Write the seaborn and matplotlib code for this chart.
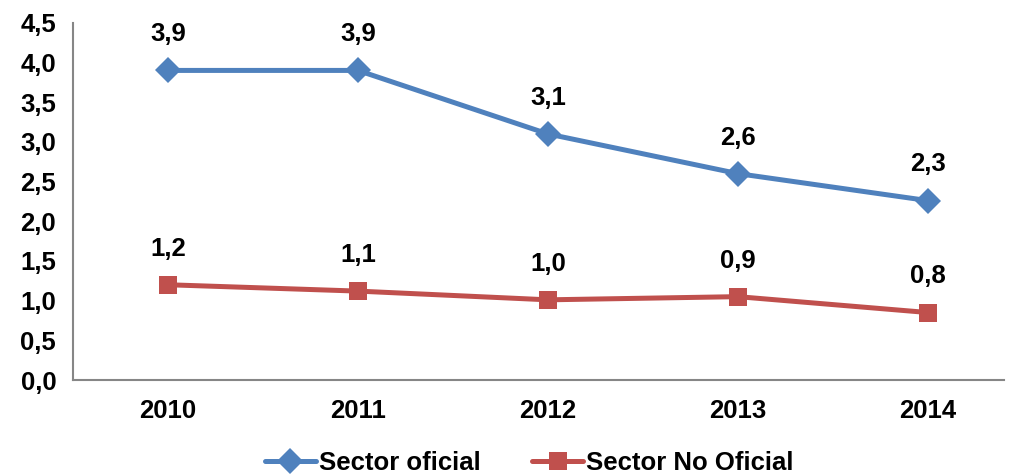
import matplotlib.pyplot as plt
import numpy as np
import pandas as pd
import seaborn as sns

sns.set_style('white')
plt.rcParams['font.family'] = ['Liberation Sans', 'DejaVu Sans']
plt.rcParams['font.weight'] = 'bold'
plt.rcParams['text.color'] = 'black'
plt.rcParams['xtick.color'] = 'black'
plt.rcParams['ytick.color'] = 'black'

# data
years = ['2010', '2011', '2012', '2013', '2014']
oficial = [3.9, 3.9, 3.1, 2.6, 2.26]
no_oficial = [1.2, 1.12, 1.01, 1.05, 0.85]
oficial_labels = ['3,9', '3,9', '3,1', '2,6', '2,3']
no_oficial_labels = ['1,2', '1,1', '1,0', '0,9', '0,8']
yticks = [0.0, 0.5, 1.0, 1.5, 2.0, 2.5, 3.0, 3.5, 4.0, 4.5]

df = pd.DataFrame({
    'year': years * 2,
    'value': oficial + no_oficial,
    'sector': ['Sector oficial'] * 5 + ['Sector No Oficial'] * 5,
})

fig = plt.figure(figsize=(10.12, 4.75), dpi=100)
ax = fig.add_axes([0.072, 0.2, 0.92, 0.752])

sns.lineplot(data=df, x='year', y='value', hue='sector', style='sector',
             palette={'Sector oficial': '#4F81BD', 'Sector No Oficial': '#C0504D'},
             markers={'Sector oficial': 'D', 'Sector No Oficial': 's'},
             dashes=False, linewidth=3.6, markersize=13.5, markeredgewidth=0,
             sort=False, ax=ax)

# value labels above each point
for series, labels in [(oficial, oficial_labels), (no_oficial, no_oficial_labels)]:
    for i, (v, lab) in enumerate(zip(series, labels)):
        ax.annotate(lab, (i, v), xytext=(0, 26), textcoords='offset points',
                    ha='center', va='center', fontsize=18.5, fontweight='bold')

ax.set_yticks(yticks)
ax.set_yticklabels([f'{t:.1f}'.replace('.', ',') for t in yticks])
ax.set_xticks(np.arange(-0.5, 4.6, 1), minor=False)
ax.set_xticklabels([])
ax.set_xticks(range(len(years)), minor=True)
ax.set_xticklabels(years, minor=True)
ax.set_ylim(0, 4.5)
ax.set_xlim(-0.5, 4.4)
ax.tick_params(axis='x', which='major', length=8, width=1.5, color='#868686', direction='out')
ax.tick_params(axis='x', which='minor', length=0, pad=14, labelsize=18.5)
ax.tick_params(axis='y', length=8, width=1.5, color='#868686', direction='out', labelsize=18.5, pad=4)
ax.set_xlabel('')
ax.set_ylabel('')

sns.despine(ax=ax)
for s in ['left', 'bottom']:
    ax.spines[s].set_color('#868686')
    ax.spines[s].set_linewidth(1.5)

ax.legend(loc='center', bbox_to_anchor=(0.49, -0.232), ncol=2, frameon=False,
          handlelength=2.0, handletextpad=0.1, columnspacing=2.0,
          prop={'weight': 'bold', 'size': 18.5})

fig.savefig('out.png', dpi=100)
